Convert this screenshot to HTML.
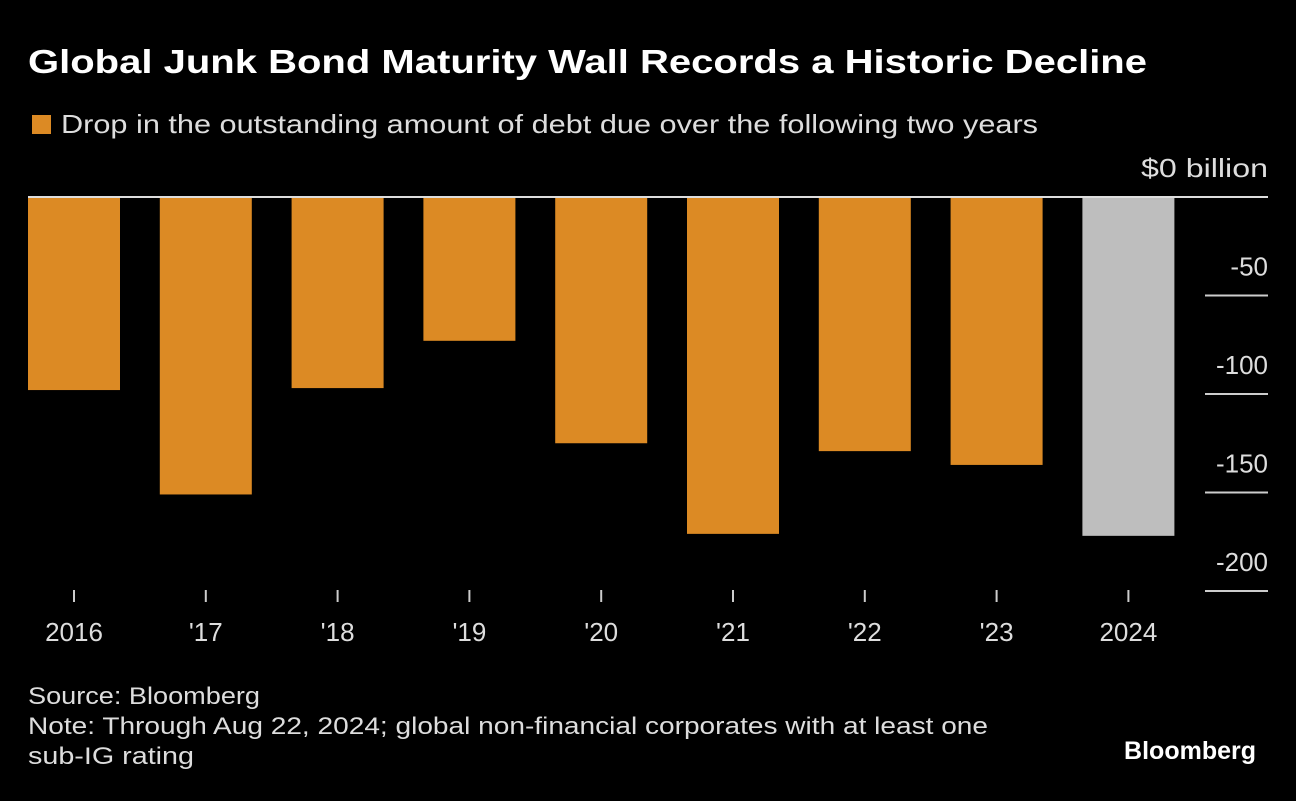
<!DOCTYPE html>
<html><head><meta charset="utf-8"><style>
body{margin:0;background:#000;width:1296px;height:796px;overflow:hidden;font-family:"Liberation Sans",sans-serif;}
svg text{font-family:"Liberation Sans",sans-serif;}
</style></head><body>
<svg id="c" width="1296" height="796">
<text x="28" y="73" fill="#fff" font-size="33" font-weight="bold" textLength="1119" lengthAdjust="spacingAndGlyphs">Global Junk Bond Maturity Wall Records a Historic Decline</text>
<rect x="32" y="115" width="19" height="19" fill="#dc8a24"/>
<text x="61" y="133" fill="#ddd" font-size="26" textLength="977" lengthAdjust="spacingAndGlyphs">Drop in the outstanding amount of debt due over the following two years</text>
<g id="bars"></g>
<g id="axes"></g>
<text x="28" y="704" fill="#ddd" font-size="24" textLength="232" lengthAdjust="spacingAndGlyphs">Source: Bloomberg</text>
<text x="28" y="734" fill="#ddd" font-size="24" textLength="960" lengthAdjust="spacingAndGlyphs">Note: Through Aug 22, 2024; global non-financial corporates with at least one</text>
<text x="28" y="764" fill="#ddd" font-size="24" textLength="166" lengthAdjust="spacingAndGlyphs">sub-IG rating</text>
<text x="1256" y="759" fill="#fff" font-size="25" font-weight="bold" text-anchor="end">Bloomberg</text>
</svg>
<script>
const categories=["2016","'17","'18","'19","'20","'21","'22","'23","2024"];
const values=[-98,-151,-97,-73,-125,-171,-129,-136,-172];
const highlight=[false,false,false,false,false,false,false,false,true];
const yTicks=[0,-50,-100,-150,-200];
const ns="http://www.w3.org/2000/svg";
const y=v=>197-v*1.97;
const x=i=>74+i*131.8;
const bw=92;
const bars=document.getElementById('bars'),axes=document.getElementById('axes');
function mk(tag,attrs,parent){const e=document.createElementNS(ns,tag);for(const k in attrs)e.setAttribute(k,attrs[k]);parent.appendChild(e);return e;}
values.forEach((v,i)=>{
  const r=mk('rect',{x:x(i)-bw/2,y:Math.min(y(0),y(v)),width:bw,height:Math.abs(y(v)-y(0)),fill:highlight[i]?'#bebebe':'#dc8a24'},bars);
  
  
  const t=mk('line',{x1:x(i),x2:x(i),y1:590,y2:602,stroke:'#ccc','stroke-width':2},axes);
  
  
  const l=mk('text',{x:x(i),y:641,fill:'#ddd','font-size':26,'text-anchor':'middle'},axes);
  l.textContent=categories[i];
  
  
});
yTicks.forEach(v=>{
  const ln=mk('line',{x1:v===0?28:1205,x2:1268,y1:y(v),y2:y(v),stroke:v===0?'#ddd':'#ccc','stroke-width':2},axes);
  
  
  const t=mk('text',{x:1268,y:y(v)-20,fill:'#ddd','font-size':26,'text-anchor':'end'},axes);
  t.textContent=v===0?'$0 billion':String(v);
  if(v===0){t.setAttribute('textLength','127');t.setAttribute('lengthAdjust','spacingAndGlyphs');}
  
  
});
</script>
</body></html>
